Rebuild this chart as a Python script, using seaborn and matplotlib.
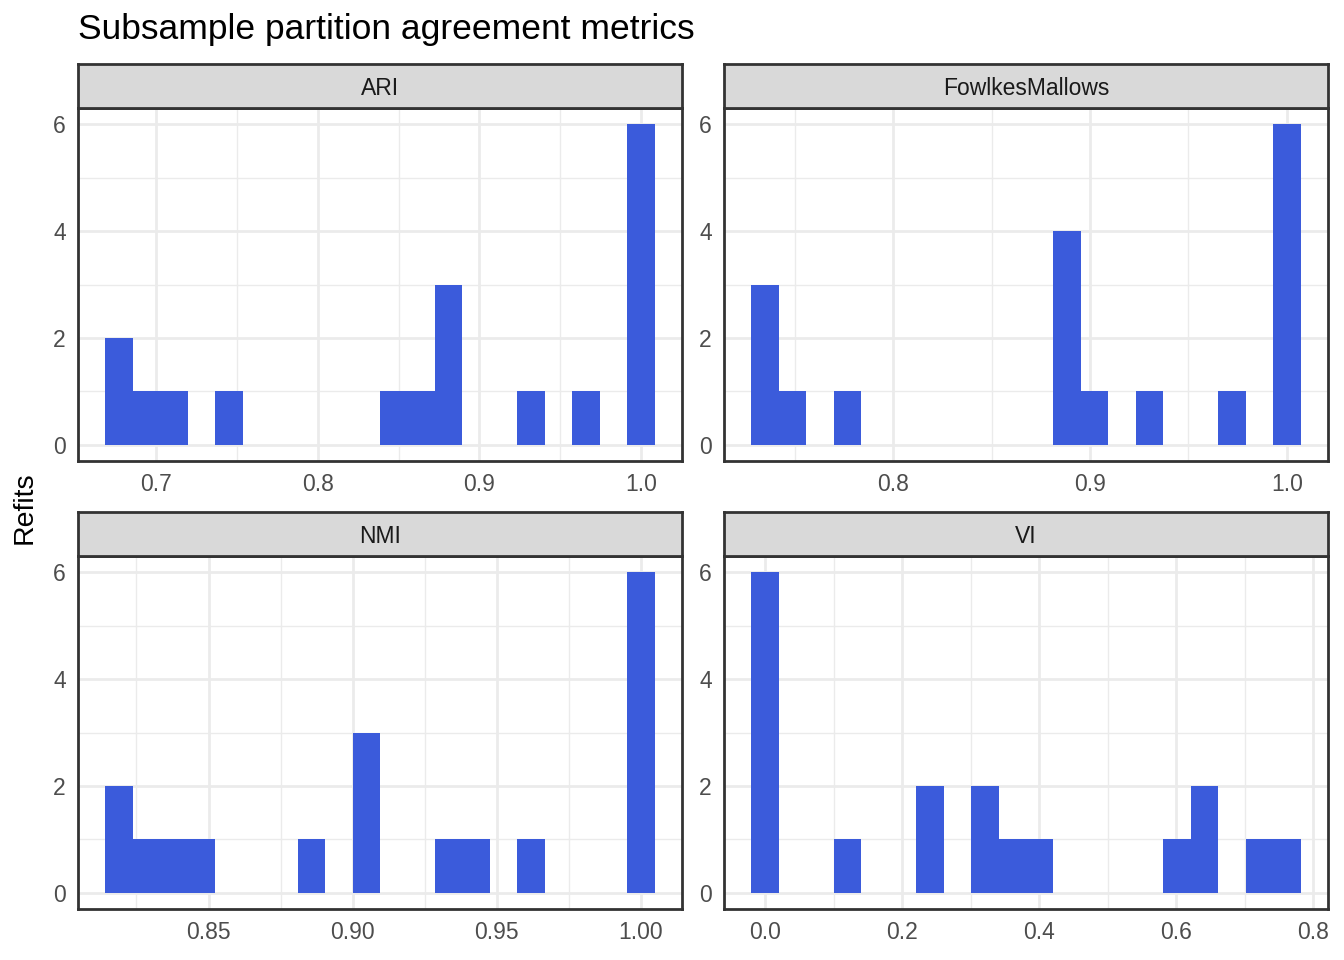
import numpy as np
import pandas as pd
import matplotlib
matplotlib.use("Agg")
import matplotlib.pyplot as plt
import seaborn as sns
from matplotlib.ticker import MultipleLocator

# valores de cada refit por metrica (18 refits)
ari = [0.677, 0.677, 0.694, 0.711, 0.745, 0.847, 0.864, 0.881, 0.881, 0.881,
       0.932, 0.966, 1.0, 1.0, 1.0, 1.0, 1.0, 1.0]
fowlkes = [0.735, 0.735, 0.735, 0.749, 0.777, 0.888, 0.888, 0.888, 0.888, 0.902,
           0.930, 0.972, 1.0, 1.0, 1.0, 1.0, 1.0, 1.0]
nmi = [0.819, 0.819, 0.8285, 0.838, 0.8476, 0.8857, 0.9048, 0.9048, 0.9048, 0.9333,
       0.9429, 0.9619, 1.0, 1.0, 1.0, 1.0, 1.0, 1.0]
vi = [0.0, 0.0, 0.0, 0.0, 0.0, 0.0, 0.120, 0.240, 0.240, 0.321,
      0.321, 0.361, 0.401, 0.601, 0.641, 0.641, 0.721, 0.7615]

metricas = ["ARI", "FowlkesMallows", "NMI", "VI"]
df = pd.DataFrame({
    "metric": np.repeat(metricas, 18),
    "value": ari + fowlkes + nmi + vi,
})

x_major = {"ARI": 0.1, "FowlkesMallows": 0.1, "NMI": 0.05, "VI": 0.2}
x_fmt = {"ARI": "{:.1f}", "FowlkesMallows": "{:.1f}", "NMI": "{:.2f}", "VI": "{:.1f}"}

sns.set_style("white")
plt.rcParams["font.family"] = ["Liberation Sans", "DejaVu Sans"]

fig = plt.figure(figsize=(13.44, 9.6), dpi=100)

W, H = 1344, 960
lefts = [78, 724]
tops = [108, 556]  # top of panel (pixels)
pw, ph, sh = 604, 353, 44
lw = 2.0

for i, m in enumerate(metricas):
    col, row = i % 2, i // 2
    left = lefts[col] / W
    bottom = 1 - (tops[row] + ph) / H
    ax = fig.add_axes([left, bottom, pw / W, ph / H])
    sax = fig.add_axes([left, 1 - tops[row] / H, pw / W, sh / H])

    vals = df.loc[df.metric == m, "value"].to_numpy()
    lo, hi = vals.min(), vals.max()
    w = (hi - lo) / 19
    edges = np.linspace(lo - w / 2, hi + w / 2, 21)

    sns.histplot(x=vals, bins=edges, ax=ax, color="#3B5BDB", alpha=1,
                 edgecolor="none", linewidth=0)

    span = edges[-1] - edges[0]
    ax.set_xlim(edges[0] - 0.05 * span, edges[-1] + 0.05 * span)
    ax.set_ylim(-0.3, 6.3)
    ax.yaxis.set_major_locator(MultipleLocator(2))
    ax.yaxis.set_minor_locator(MultipleLocator(1))
    ax.xaxis.set_major_locator(MultipleLocator(x_major[m]))
    ax.xaxis.set_minor_locator(MultipleLocator(x_major[m] / 2))
    ax.set_xticks([t for t in ax.get_xticks() if edges[0] - 0.05 * span <= t <= edges[-1] + 0.05 * span])
    ax.set_xticklabels([x_fmt[m].format(t) for t in ax.get_xticks()])
    ax.set_yticks([0, 2, 4, 6])
    ax.set_yticklabels(["0", "2", "4", "6"])

    ax.grid(which="major", color="#EBEBEB", linewidth=lw)
    ax.grid(which="minor", color="#EBEBEB", linewidth=lw / 2)
    ax.set_axisbelow(True)
    ax.tick_params(which="major", length=5.3, width=lw, color="#333333",
                   labelsize=16.5, labelcolor="#4D4D4D", pad=3.5)
    ax.tick_params(which="minor", length=0)
    for s in ax.spines.values():
        s.set_color("#333333")
        s.set_linewidth(lw)
    ax.set_xlabel("")
    ax.set_ylabel("")

    sax.set_facecolor("#D9D9D9")
    sax.set_xticks([])
    sax.set_yticks([])
    for s in sax.spines.values():
        s.set_color("#333333")
        s.set_linewidth(lw)
    sax.text(0.5, 0.44, m, ha="center", va="center", fontsize=16.5,
             color="#1A1A1A", transform=sax.transAxes)

fig.text(78 / W, 1 - 29 / H, "Subsample partition agreement metrics",
         fontsize=25.5, ha="left", va="center", color="black")
fig.text(25 / W, 1 - 508 / H, "Refits", fontsize=20.5, rotation=90,
         ha="center", va="center", color="black")

fig.savefig("out.png", dpi=100)
